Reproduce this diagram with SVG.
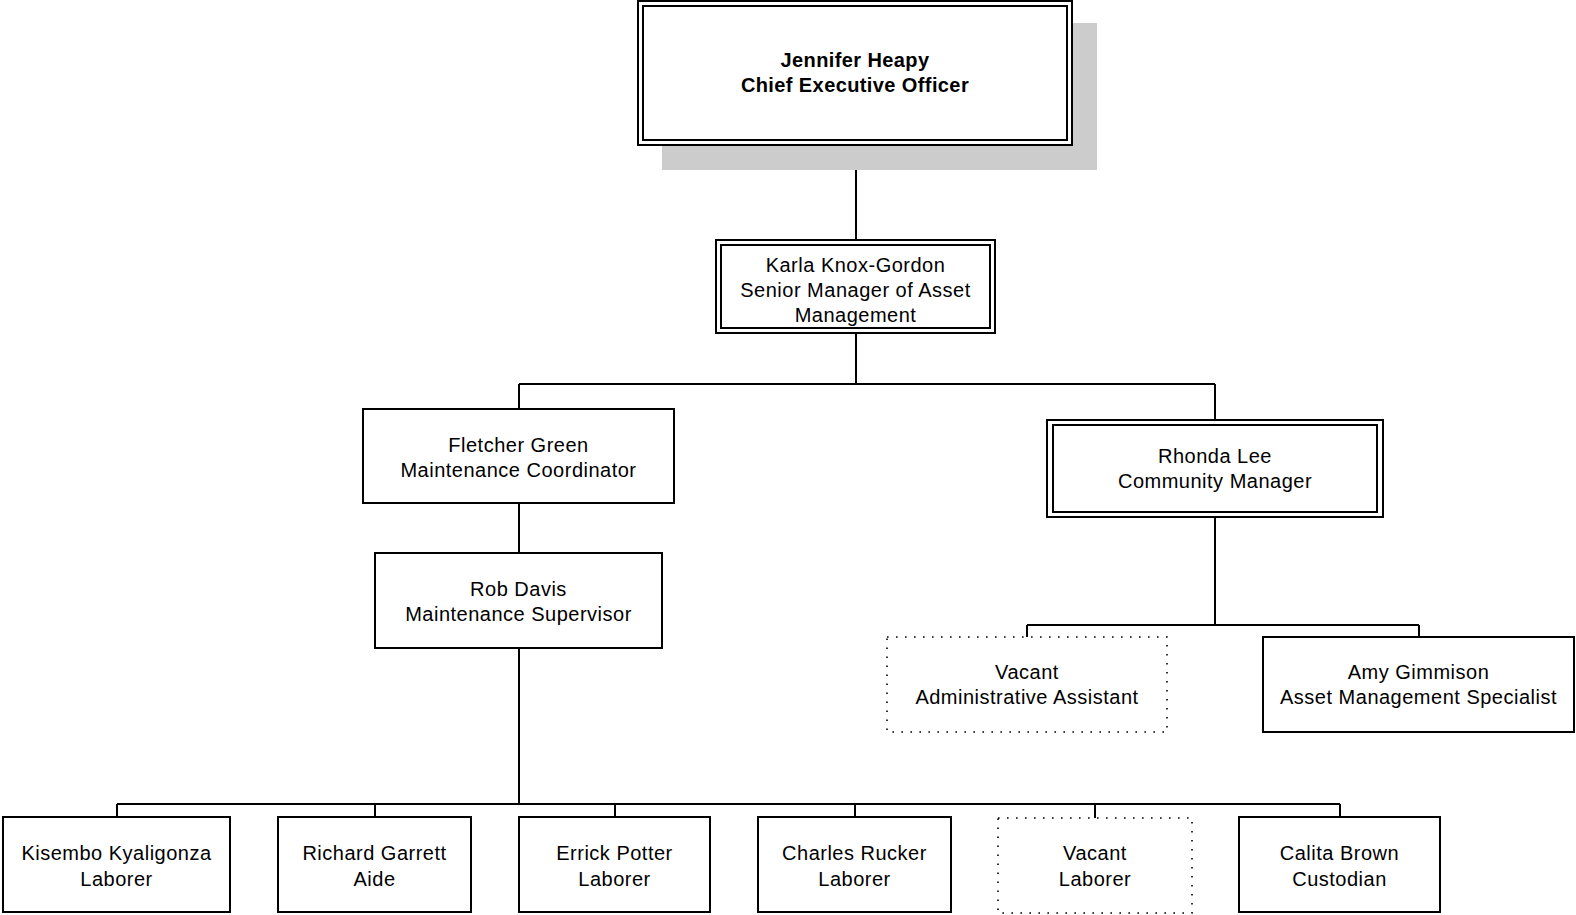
<svg xmlns="http://www.w3.org/2000/svg" width="1576" height="915" viewBox="0 0 1576 915">
  <style>
    .box { fill: #ffffff; stroke: #000000; stroke-width: 2; }
    .dbl { fill: none; stroke: #000000; stroke-width: 2; }
    .vacant { fill: #ffffff; stroke: #000000; stroke-width: 1.6; stroke-dasharray: 1.6 7.4; }
    .shadow { fill: #cccccc; }
    .link { fill: none; stroke: #000000; stroke-width: 2; }
    text { font-family: "Liberation Sans", Arial, sans-serif; font-size: 20px; letter-spacing: 0.5px; fill: #000000; text-anchor: middle; }
    text.title { font-weight: bold; font-size: 20px; letter-spacing: 0.4px; }
  </style>
  <rect width="1576" height="915" fill="#ffffff"/>

  <!-- reporting lines -->
  <g id="connectors">
    <path class="link" d="M856 145 V240"/>
    <path class="link" d="M856 333 V384 M519 384 H1215 M519 384 V409 M1215 384 V420"/>
    <path class="link" d="M519 503 V553"/>
    <path class="link" d="M519 648 V804 M117 804 H1340 M117 804 V817 M375 804 V817 M615 804 V817 M855 804 V817 M1095 804 V818 M1340 804 V817"/>
    <path class="link" d="M1215 517 V625 M1027 625 H1419 M1027 625 V637 M1419 625 V637"/>
  </g>

  <g id="ceo">
    <rect class="shadow" x="662" y="23" width="435" height="147"/>
    <rect class="box" x="638" y="1" width="434" height="144"/>
    <rect class="dbl" x="643" y="6" width="424" height="134"/>
    <text class="title" x="855" y="67">Jennifer Heapy</text>
    <text class="title" x="855" y="92">Chief Executive Officer</text>
  </g>

  <g id="senior-manager">
    <rect class="box" x="716" y="240" width="279" height="93"/>
    <rect class="dbl" x="721" y="245" width="269" height="83"/>
    <text x="855.5" y="272">Karla Knox-Gordon</text>
    <text x="855.5" y="297">Senior Manager of Asset</text>
    <text x="855.5" y="322">Management</text>
  </g>

  <g id="maintenance-coordinator">
    <rect class="box" x="363" y="409" width="311" height="94"/>
    <text x="518.5" y="452">Fletcher Green</text>
    <text x="518.5" y="477">Maintenance Coordinator</text>
  </g>

  <g id="maintenance-supervisor">
    <rect class="box" x="375" y="553" width="287" height="95"/>
    <text x="518.5" y="596">Rob Davis</text>
    <text x="518.5" y="621">Maintenance Supervisor</text>
  </g>

  <g id="community-manager">
    <rect class="box" x="1047" y="420" width="336" height="97"/>
    <rect class="dbl" x="1053" y="425" width="324" height="87"/>
    <text x="1215" y="463">Rhonda Lee</text>
    <text x="1215" y="488">Community Manager</text>
  </g>

  <g id="admin-assistant">
    <rect class="vacant" x="887" y="637" width="280" height="95"/>
    <text x="1027" y="679">Vacant</text>
    <text x="1027" y="704">Administrative Assistant</text>
  </g>

  <g id="asset-specialist">
    <rect class="box" x="1263" y="637" width="311" height="95"/>
    <text x="1418.5" y="679">Amy Gimmison</text>
    <text x="1418.5" y="704">Asset Management Specialist</text>
  </g>

  <g id="laborer-kyaligonza">
    <rect class="box" x="3" y="817" width="227" height="95"/>
    <text x="116.5" y="860">Kisembo Kyaligonza</text>
    <text x="116.5" y="886">Laborer</text>
  </g>

  <g id="aide-garrett">
    <rect class="box" x="278" y="817" width="193" height="95"/>
    <text x="374.5" y="860">Richard Garrett</text>
    <text x="374.5" y="886">Aide</text>
  </g>

  <g id="laborer-potter">
    <rect class="box" x="519" y="817" width="191" height="95"/>
    <text x="614.5" y="860">Errick Potter</text>
    <text x="614.5" y="886">Laborer</text>
  </g>

  <g id="laborer-rucker">
    <rect class="box" x="758" y="817" width="193" height="95"/>
    <text x="854.5" y="860">Charles Rucker</text>
    <text x="854.5" y="886">Laborer</text>
  </g>

  <g id="laborer-vacant">
    <rect class="vacant" x="998" y="818" width="194" height="95"/>
    <text x="1095" y="860">Vacant</text>
    <text x="1095" y="886">Laborer</text>
  </g>

  <g id="custodian-brown">
    <rect class="box" x="1239" y="817" width="201" height="95"/>
    <text x="1339.5" y="860">Calita Brown</text>
    <text x="1339.5" y="886">Custodian</text>
  </g>
</svg>
